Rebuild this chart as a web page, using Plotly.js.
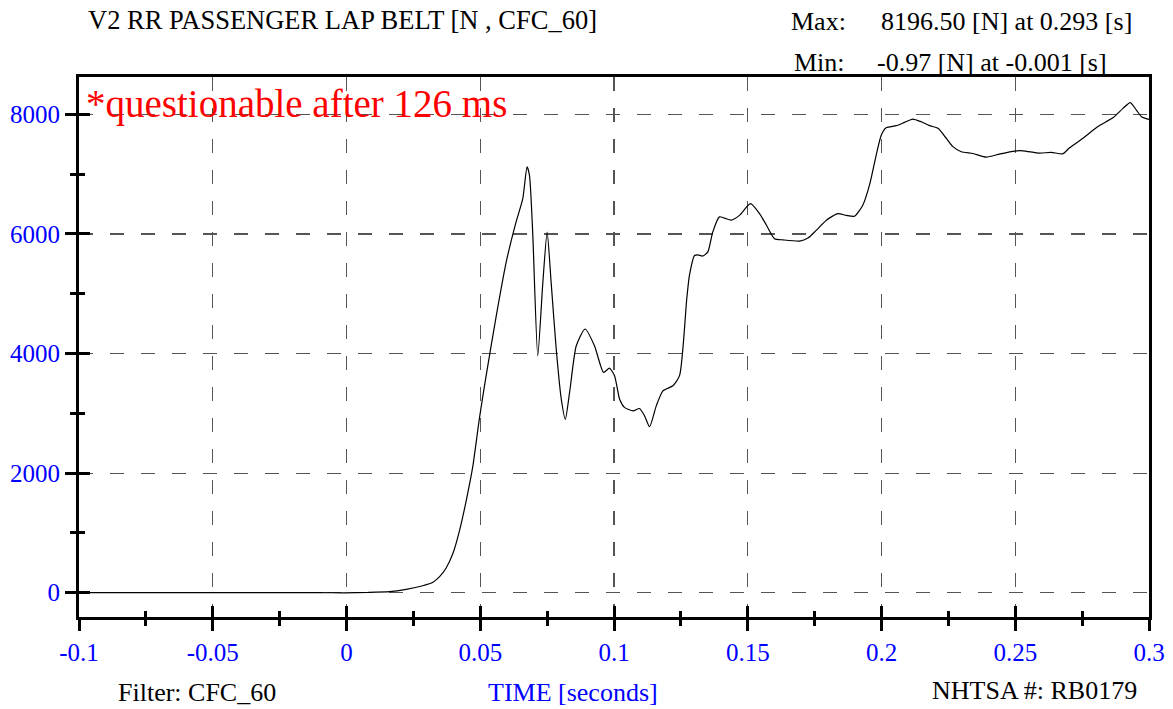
<!DOCTYPE html>
<html>
<head>
<meta charset="utf-8">
<script src="https://cdn.plot.ly/plotly-3.0.1.min.js"></script>
<style>html,body{margin:0;padding:0;background:#fff;}#chart{width:1173px;height:709px;}</style>
</head>
<body>
<div id="chart"></div>
<script>
// Time [s]
const timeSec = [-0.1, -0.075, -0.05, -0.025, -0.01, -0.001, 0.008, 0.0161, 0.0223, 0.0285, 0.0323, 0.0348, 0.0373, 0.0398, 0.0423, 0.0448, 0.0472, 0.0497, 0.0522, 0.0560, 0.0597, 0.0634, 0.0659, 0.0675, 0.0684, 0.0696, 0.0715, 0.0734, 0.0750, 0.0765, 0.0784, 0.0803, 0.0818, 0.0834, 0.0859, 0.0892, 0.0927, 0.0961, 0.0983, 0.1002, 0.1021, 0.1039, 0.1071, 0.1095, 0.1114, 0.1133, 0.1158, 0.1183, 0.1220, 0.1245, 0.1272, 0.1282, 0.1301, 0.1313, 0.1332, 0.1351, 0.1369, 0.1394, 0.1413, 0.1438, 0.1469, 0.1510, 0.1544, 0.1570, 0.1600, 0.1632, 0.1694, 0.1725, 0.1756, 0.1794, 0.1837, 0.1868, 0.1899, 0.1930, 0.1955, 0.1980, 0.1999, 0.2017, 0.2055, 0.2086, 0.2117, 0.2149, 0.2180, 0.2211, 0.2242, 0.2267, 0.2298, 0.2342, 0.2392, 0.2441, 0.2497, 0.2529, 0.2591, 0.2634, 0.2678, 0.2703, 0.2753, 0.2809, 0.2866, 0.2903, 0.2930, 0.2953, 0.2972, 0.3000];
// Lap belt force [N]
const forceN = [0, 0, 0, 0, 0, -0.97, 4, 17, 57, 117, 174, 268, 418, 659, 1048, 1550, 2107, 2920, 3630, 4635, 5530, 6200, 6590, 7120, 6980, 6030, 3960, 5190, 6030, 5190, 4075, 3235, 2900, 3350, 4130, 4410, 4130, 3685, 3755, 3630, 3235, 3100, 3040, 3080, 2960, 2775, 3125, 3375, 3460, 3630, 4915, 5305, 5640, 5650, 5630, 5700, 6030, 6285, 6265, 6230, 6310, 6505, 6340, 6145, 5920, 5900, 5880, 5930, 6060, 6230, 6340, 6310, 6295, 6480, 6815, 7315, 7650, 7775, 7810, 7865, 7920, 7875, 7810, 7765, 7600, 7460, 7375, 7345, 7285, 7335, 7385, 7390, 7350, 7365, 7340, 7440, 7600, 7795, 7945, 8100, 8196.5, 8070, 7960, 7915];

const xTickVals = [-0.1, -0.05, 0, 0.05, 0.1, 0.15, 0.2, 0.25, 0.3];
const xTickText = ["-0.1", "-0.05", "0", "0.05", "0.1", "0.15", "0.2", "0.25", "0.3"];
const yTickVals = [0, 2000, 4000, 6000, 8000];
const yTickText = ["0", "2000", "4000", "6000", "8000"];

const chartTitle = "V2 RR PASSENGER LAP BELT [N , CFC_60]";
const maxLabel = "Max:", maxText = "8196.50 [N] at 0.293 [s]";
const minLabel = "Min:", minText = "-0.97 [N] at -0.001 [s]";
const noteText = "*questionable after 126 ms";
const filterText = "Filter: CFC_60";
const xTitleText = "TIME [seconds]";
const idText = "NHTSA #: RB0179";

const FONT = "Liberation Serif, Times New Roman, serif";
const X_RANGE = [-0.1, 0.3];
const Y_RANGE = [-406, 8624];

const trace = {
  x: timeSec, y: forceN, type: 'scatter', mode: 'lines',
  line: {color: '#000', width: 1.2, shape: 'spline', smoothing: 0.6},
  hoverinfo: 'x+y', showlegend: false
};
const ghost = {x: [], y: [], xaxis: 'x2', yaxis: 'y2', type: 'scatter', mode: 'lines', showlegend: false, hoverinfo: 'skip'};

const gridStyle = {showgrid: true, gridcolor: '#555', gridwidth: 1.2, griddash: '14px,17px'};

const layout = {
  width: 1173, height: 709,
  margin: {l: 79, r: 24, t: 77, b: 92},
  paper_bgcolor: '#fff', plot_bgcolor: '#fff',
  font: {family: FONT, size: 26, color: '#000'},
  showlegend: false,
  title: {text: chartTitle, x: 88/1173, xref: 'container', xanchor: 'left', y: 1 - 20/709, yref: 'container', yanchor: 'middle',
          font: {family: FONT, size: 26.5, color: '#000'}},
  xaxis: Object.assign({
    range: X_RANGE, tickmode: 'array', tickvals: xTickVals, ticktext: xTickText,
    ticks: 'outside', ticklen: 11, tickwidth: 3, tickcolor: '#000',
    minor: {dtick: 0.025, tick0: 0, ticks: 'outside', ticklen: 6, tickwidth: 3, tickcolor: '#000', showgrid: false},
    tickfont: {family: FONT, size: 25, color: '#0000ff'},
    showline: true, linecolor: '#000', linewidth: 3, mirror: true, zeroline: false, fixedrange: true
  }, gridStyle),
  yaxis: Object.assign({
    range: Y_RANGE, tickmode: 'array', tickvals: yTickVals, ticktext: yTickText,
    ticks: 'outside', ticklen: 11, tickwidth: 3, tickcolor: '#000',
    minor: {dtick: 1000, tick0: 0, ticks: 'outside', ticklen: 6, tickwidth: 3, tickcolor: '#000', showgrid: false},
    tickfont: {family: FONT, size: 25, color: '#0000ff'},
    showline: true, linecolor: '#000', linewidth: 3, mirror: true, zeroline: false, fixedrange: true
  }, gridStyle),
  xaxis2: {
    overlaying: 'x', anchor: 'y2', side: 'bottom', range: X_RANGE, tickmode: 'array', tickvals: xTickVals,
    ticks: 'inside', ticklen: 11, tickwidth: 3, tickcolor: '#000', showticklabels: false, showgrid: false, showline: false, zeroline: false,
    minor: {dtick: 0.025, tick0: 0, ticks: 'inside', ticklen: 6, tickwidth: 3, tickcolor: '#000', showgrid: false}, fixedrange: true
  },
  yaxis2: {
    overlaying: 'y', anchor: 'x2', side: 'left', range: Y_RANGE, tickmode: 'array', tickvals: yTickVals,
    ticks: 'inside', ticklen: 11, tickwidth: 3, tickcolor: '#000', showticklabels: false, showgrid: false, showline: false, zeroline: false,
    minor: {dtick: 1000, tick0: 0, ticks: 'inside', ticklen: 6, tickwidth: 3, tickcolor: '#000', showgrid: false}, fixedrange: true
  },
  annotations: [
    {text: maxLabel, xref: 'paper', yref: 'paper', x: (789-79.5)/1069.5, y: (617-22)/540, xanchor: 'left', yanchor: 'middle', showarrow: false, font: {family: FONT, size: 26, color: '#000'}},
    {text: maxText, xref: 'paper', yref: 'paper', x: (879-79.5)/1069.5, y: (617-22)/540, xanchor: 'left', yanchor: 'middle', showarrow: false, font: {family: FONT, size: 26, color: '#000'}},
    {text: minLabel, xref: 'paper', yref: 'paper', x: (792-79.5)/1069.5, y: (617-62)/540, xanchor: 'left', yanchor: 'middle', showarrow: false, font: {family: FONT, size: 26, color: '#000'}},
    {text: minText, xref: 'paper', yref: 'paper', x: (875-79.5)/1069.5, y: (617-62)/540, xanchor: 'left', yanchor: 'middle', showarrow: false, font: {family: FONT, size: 26, color: '#000'}},
    {text: noteText, xref: 'paper', yref: 'paper', x: (84-79.5)/1069.5, y: (617-104)/540, xanchor: 'left', yanchor: 'middle', showarrow: false, font: {family: FONT, size: 39, color: '#ff0000'}},
    {text: filterText, xref: 'paper', yref: 'paper', x: (197-79.5)/1069.5, y: (617-692)/540, xanchor: 'center', yanchor: 'middle', showarrow: false, font: {family: FONT, size: 26, color: '#000'}},
    {text: xTitleText, xref: 'paper', yref: 'paper', x: (573-79.5)/1069.5, y: (617-692)/540, xanchor: 'center', yanchor: 'middle', showarrow: false, font: {family: FONT, size: 26, color: '#0000ff'}},
    {text: idText, xref: 'paper', yref: 'paper', x: (1035-79.5)/1069.5, y: (617-690)/540, xanchor: 'center', yanchor: 'middle', showarrow: false, font: {family: FONT, size: 26, color: '#000'}}
  ]
};

Plotly.newPlot('chart', [trace, ghost], layout, {displayModeBar: false, staticPlot: true});
</script>
</body>
</html>
